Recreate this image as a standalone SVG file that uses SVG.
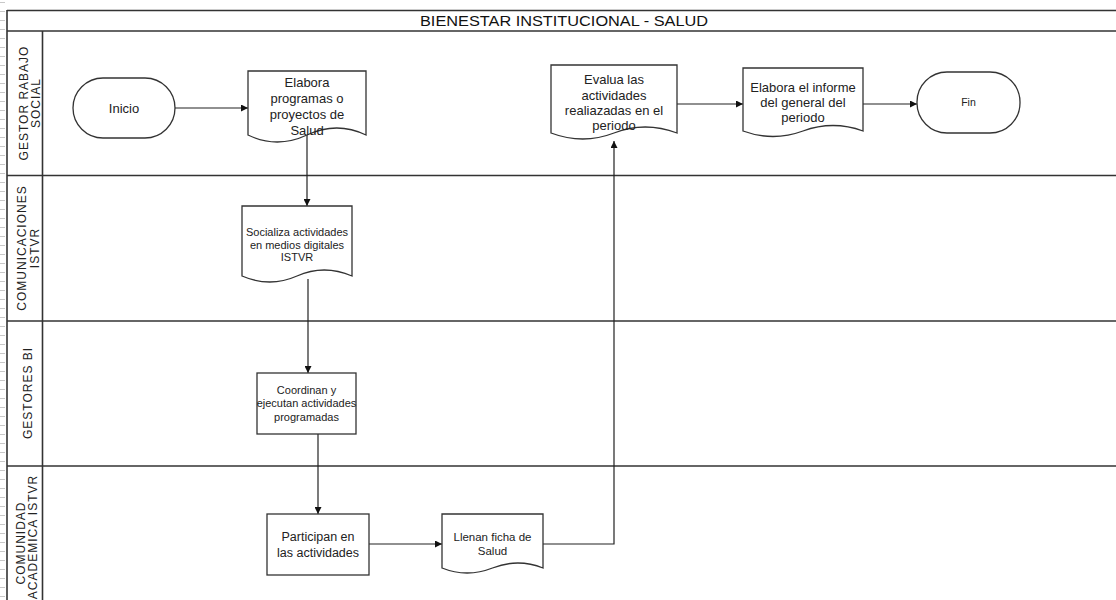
<svg xmlns="http://www.w3.org/2000/svg" width="1116" height="600" viewBox="0 0 1116 600">
  <defs>
    <marker id="arrow" viewBox="0 0 10 10" refX="10" refY="5" markerWidth="9" markerHeight="7" markerUnits="userSpaceOnUse" orient="auto">
      <path d="M0,0 L10,5 L0,10 z" fill="#111"/>
    </marker>
    <pattern id="ticks" x="0" y="2" width="6" height="9" patternUnits="userSpaceOnUse">
      <line x1="0" y1="0.5" x2="5" y2="0.5" stroke="#c8c8c8" stroke-width="1"/>
    </pattern>
  </defs>
  <style>
    .lane { fill: none; stroke: #333; stroke-width: 1.6; }
    .shape { fill: #fff; stroke: #333; stroke-width: 1.3; }
    .conn { fill: none; stroke: #222; stroke-width: 1.2; }
    .title { font-family: "Liberation Sans", Arial, sans-serif; font-size: 14px; fill: #111; }
    .lbl { font-family: "Liberation Sans", Arial, sans-serif; font-size: 12px; letter-spacing: 1px; fill: #222; }
    .t { font-family: "Liberation Sans", Arial, sans-serif; fill: #222; text-anchor: middle; }
  </style>

  <rect width="1116" height="600" fill="#fff"/>
  <!-- ruler ticks on the left margin -->
  <rect x="0" y="0" width="6" height="600" fill="url(#ticks)"/>

  <!-- pool frame and swimlanes -->
  <g id="pool">
    <line class="lane" x1="7" y1="10.5" x2="1116" y2="10.5"/>
    <line class="lane" x1="7" y1="31" x2="1116" y2="31"/>
    <line class="lane" x1="7" y1="10" x2="7" y2="600"/>
    <line class="lane" x1="42.5" y1="31" x2="42.5" y2="600"/>
    <line class="lane" x1="7" y1="175.5" x2="1116" y2="175.5"/>
    <line class="lane" x1="7" y1="321" x2="1116" y2="321"/>
    <line class="lane" x1="7" y1="466" x2="1116" y2="466"/>
    <text class="title" x="564" y="26" text-anchor="middle" textLength="288" lengthAdjust="spacingAndGlyphs">BIENESTAR INSTITUCIONAL - SALUD</text>
  </g>

  <g id="lane-labels" text-anchor="middle">
    <text class="lbl" transform="translate(28,103) rotate(-90)">GESTOR RABAJO</text>
    <text class="lbl" transform="translate(40,103) rotate(-90)">SOCIAL</text>
    <text class="lbl" transform="translate(26,248) rotate(-90)">COMUNICACIONES</text>
    <text class="lbl" transform="translate(39,248) rotate(-90)">ISTVR</text>
    <text class="lbl" transform="translate(32,393) rotate(-90)">GESTORES BI</text>
    <text class="lbl" transform="translate(25,543) rotate(-90)">COMUNIDAD</text>
    <text class="lbl" transform="translate(37,537) rotate(-90)">ACADEMICA ISTVR</text>
  </g>

  <!-- flow connectors -->
  <g id="connectors">
    <path class="conn" d="M175,108 H248" marker-end="url(#arrow)"/>
    <path class="conn" d="M307,129 V206" marker-end="url(#arrow)"/>
    <path class="conn" d="M308,279 V373" marker-end="url(#arrow)"/>
    <path class="conn" d="M318,434 V514" marker-end="url(#arrow)"/>
    <path class="conn" d="M369,544 H442" marker-end="url(#arrow)"/>
    <path class="conn" d="M543,544 H614 V141" marker-end="url(#arrow)"/>
    <path class="conn" d="M677,104 H743" marker-end="url(#arrow)"/>
    <path class="conn" d="M863,104 H917" marker-end="url(#arrow)"/>
  </g>

  <g id="inicio">
    <rect class="shape" x="73" y="78" width="102" height="60" rx="30" ry="30"/>
    <text class="t" x="124" y="112.5" font-size="13">Inicio</text>
  </g>

  <g id="elabora-programas">
    <path class="shape" d="M248,71 H366 V135 Q337,121 307,135 T248,135 Z"/>
    <text class="t" x="307" y="87" font-size="13">Elabora</text>
    <text class="t" x="307" y="103" font-size="13">programas o</text>
    <text class="t" x="307" y="119" font-size="13">proyectos de</text>
    <text class="t" x="307" y="135" font-size="13">Salud</text>
  </g>

  <g id="socializa">
    <path class="shape" d="M242,206 H352 V276 Q324,264 297,276 T242,276 Z"/>
    <text class="t" x="297" y="236" font-size="11">Socializa actividades</text>
    <text class="t" x="297" y="249" font-size="11">en medios digitales</text>
    <text class="t" x="297" y="261" font-size="11">ISTVR</text>
  </g>

  <g id="coordinan">
    <rect class="shape" x="257" y="373" width="99" height="61"/>
    <text class="t" x="306.5" y="394" font-size="11">Coordinan y</text>
    <text class="t" x="306.5" y="407" font-size="11">ejecutan actividades</text>
    <text class="t" x="306.5" y="421" font-size="11">programadas</text>
  </g>

  <g id="participan">
    <rect class="shape" x="267" y="514" width="102" height="61"/>
    <text class="t" x="318" y="541" font-size="12.5">Participan en</text>
    <text class="t" x="318" y="557" font-size="12.5">las actividades</text>
  </g>

  <g id="llenan">
    <path class="shape" d="M442,514 H543 V568 Q518,558 492.5,568 T442,568 Z"/>
    <text class="t" x="492.5" y="541" font-size="11.5">Llenan ficha de</text>
    <text class="t" x="492.5" y="555" font-size="11.5">Salud</text>
  </g>

  <g id="evalua">
    <path class="shape" d="M551,65 H677 V133 Q645,121 614,133 T551,133 Z"/>
    <text class="t" x="614" y="84" font-size="13">Evalua las</text>
    <text class="t" x="614" y="100" font-size="13">actividades</text>
    <text class="t" x="614" y="115" font-size="13">realiazadas en el</text>
    <text class="t" x="614" y="130" font-size="13">periodo</text>
  </g>

  <g id="elabora-informe">
    <path class="shape" d="M743,68 H863 V131 Q833,120 803,131 T743,131 Z"/>
    <text class="t" x="803" y="92" font-size="13">Elabora el informe</text>
    <text class="t" x="803" y="107" font-size="13">del general del</text>
    <text class="t" x="803" y="122" font-size="13">periodo</text>
  </g>

  <g id="fin">
    <rect class="shape" x="917" y="72" width="103" height="61" rx="30" ry="30"/>
    <text class="t" x="968.5" y="106" font-size="10.5">Fin</text>
  </g>
</svg>
